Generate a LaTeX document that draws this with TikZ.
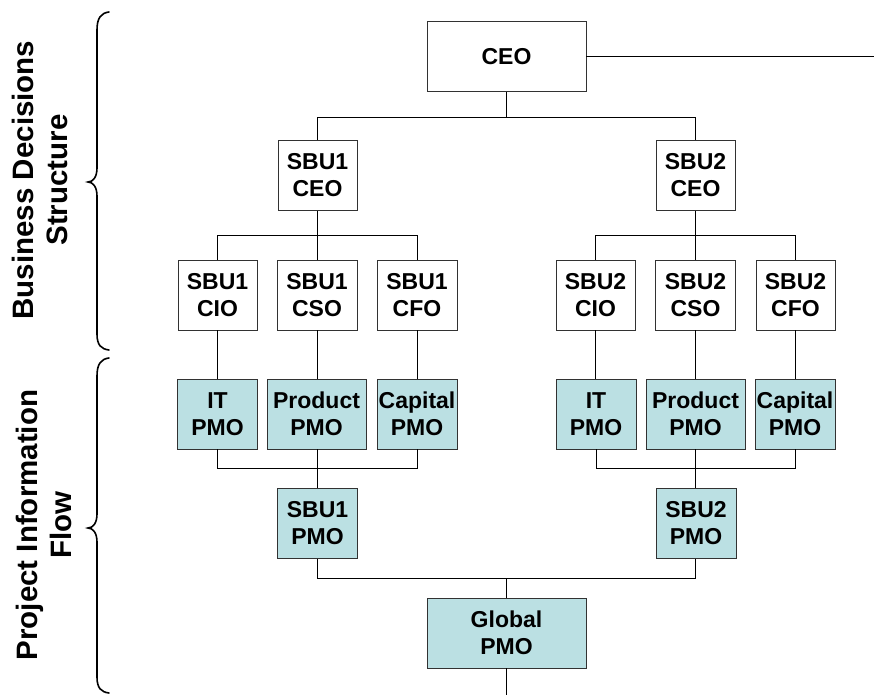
\documentclass[tikz,border=0pt]{standalone}
\usepackage{fontspec}
\setmainfont{Liberation Sans}
\definecolor{pmofill}{RGB}{187,224,227}
\definecolor{boxline}{RGB}{50,50,50}
\begin{document}
\begin{tikzpicture}[x=1pt,y=-1pt,
  box/.style={draw=boxline,line width=0.9pt,fill=white,inner sep=0pt,align=center,
    font=\fontsize{23}{27}\selectfont\bfseries,minimum height=70pt},
  pmo/.style={box,fill=pmofill},
  conn/.style={draw=black,line width=0.9pt},
  brace/.style={draw=black,line width=1.6pt},
  side/.style={align=center,rotate=90,font=\fontsize{29.5}{34.5}\selectfont\bfseries}]
\useasboundingbox (0,0) rectangle (874,695);
% top level
\node[box,minimum width=159pt] (ceo) at (506.5,56.5) {CEO};
\coordinate (ceoright) at (874,56.5);
\node[box,minimum width=79pt] (s1ceo) at (317.5,175.5) {SBU1\\CEO};
\node[box,minimum width=79pt] (s2ceo) at (695.5,175.5) {SBU2\\CEO};
% C-level row
\node[box,minimum width=79pt] (s1cio) at (217.5,295) {SBU1\\CIO};
\node[box,minimum width=80pt] (s1cso) at (317,295) {SBU1\\CSO};
\node[box,minimum width=80pt] (s1cfo) at (417,295) {SBU1\\CFO};
\node[box,minimum width=79pt] (s2cio) at (595.5,295) {SBU2\\CIO};
\node[box,minimum width=80pt] (s2cso) at (695.5,295) {SBU2\\CSO};
\node[box,minimum width=79pt] (s2cfo) at (795.5,295) {SBU2\\CFO};
% PMO row
\node[pmo,minimum width=80pt] (s1it) at (217.5,414) {IT\\PMO};
\node[pmo,minimum width=99pt] (s1prod) at (316.5,414) {Product\\PMO};
\node[pmo,minimum width=80pt] (s1cap) at (417,414) {Capital\\PMO};
\node[pmo,minimum width=80pt] (s2it) at (596,414) {IT\\PMO};
\node[pmo,minimum width=99pt] (s2prod) at (695.5,414) {Product\\PMO};
\node[pmo,minimum width=80pt] (s2cap) at (795,414) {Capital\\PMO};
% SBU PMOs
\node[pmo,minimum width=80pt] (s1pmo) at (317.5,523.5) {SBU1\\PMO};
\node[pmo,minimum width=80pt] (s2pmo) at (696,523.5) {SBU2\\PMO};
% Global
\node[pmo,minimum width=159pt] (gpmo) at (506.5,633) {Global\\PMO};
\coordinate (gbottom) at (506.5,695);
% junction coordinates
\coordinate (j0) at (506.5,117);
\coordinate (j1) at (317.5,235);
\coordinate (j2) at (695.5,235);
\coordinate (j3) at (317,468);
\coordinate (j4) at (695.5,468);
\coordinate (j5) at (506.5,578);
% connectors
\draw[conn] (ceo.east) -- (ceoright);
\draw[conn] (ceo.south) -- (j0);
\draw[conn] (j0) -| (s1ceo.north);
\draw[conn] (j0) -| (s2ceo.north);
\draw[conn] (s1ceo.south) -- (j1);
\draw[conn] (j1) -| (s1cio.north);
\draw[conn] (j1) -| (s1cso.north);
\draw[conn] (j1) -| (s1cfo.north);
\draw[conn] (s2ceo.south) -- (j2);
\draw[conn] (j2) -| (s2cio.north);
\draw[conn] (j2) -| (s2cso.north);
\draw[conn] (j2) -| (s2cfo.north);
\draw[conn] (s1cio.south) -- (s1it.north);
\draw[conn] (s1cso.south) -- (s1prod.north -| s1cso.south);
\draw[conn] (s1cfo.south) -- (s1cap.north);
\draw[conn] (s2cio.south) -- (s2it.north -| s2cio.south);
\draw[conn] (s2cso.south) -- (s2prod.north);
\draw[conn] (s2cfo.south) -- (s2cap.north -| s2cfo.south);
\draw[conn] (s1it.south) |- (j3);
\draw[conn] (s1cap.south) |- (j3);
\draw[conn] (s1prod.south -| j3) -- (s1pmo.north -| j3);
\draw[conn] (s2it.south) |- (j4);
\draw[conn] (s2cap.south) |- (j4);
\draw[conn] (s2prod.south) -- (s2pmo.north -| s2prod.south);
\draw[conn] (s1pmo.south) |- (j5);
\draw[conn] (s2pmo.south -| j4) |- (j5);
\draw[conn] (j5) -- (gpmo.north);
\draw[conn] (gpmo.south) -- (gbottom);
% braces
\draw[brace,line cap=round] (109,12) .. controls (101,13) and (97,18) .. (97,30)
  -- (97,168) .. controls (97,177) and (93,182) .. (88,182)
  .. controls (93,182) and (97,187) .. (97,196)
  -- (97,334) .. controls (97,345) and (101,349) .. (109,350);
\draw[brace,line cap=round] (109,358) .. controls (101,359) and (97,364) .. (97,376)
  -- (97,514) .. controls (97,523) and (93,528) .. (88,528)
  .. controls (93,528) and (97,533) .. (97,542)
  -- (97,677) .. controls (97,688) and (101,692) .. (109,693);
% side labels
\node[side] (lab1) at (40,180) {Business Decisions\\Structure};
\node[side] (lab2) at (44,525) {Project Information\\Flow};
\end{tikzpicture}
\end{document}
